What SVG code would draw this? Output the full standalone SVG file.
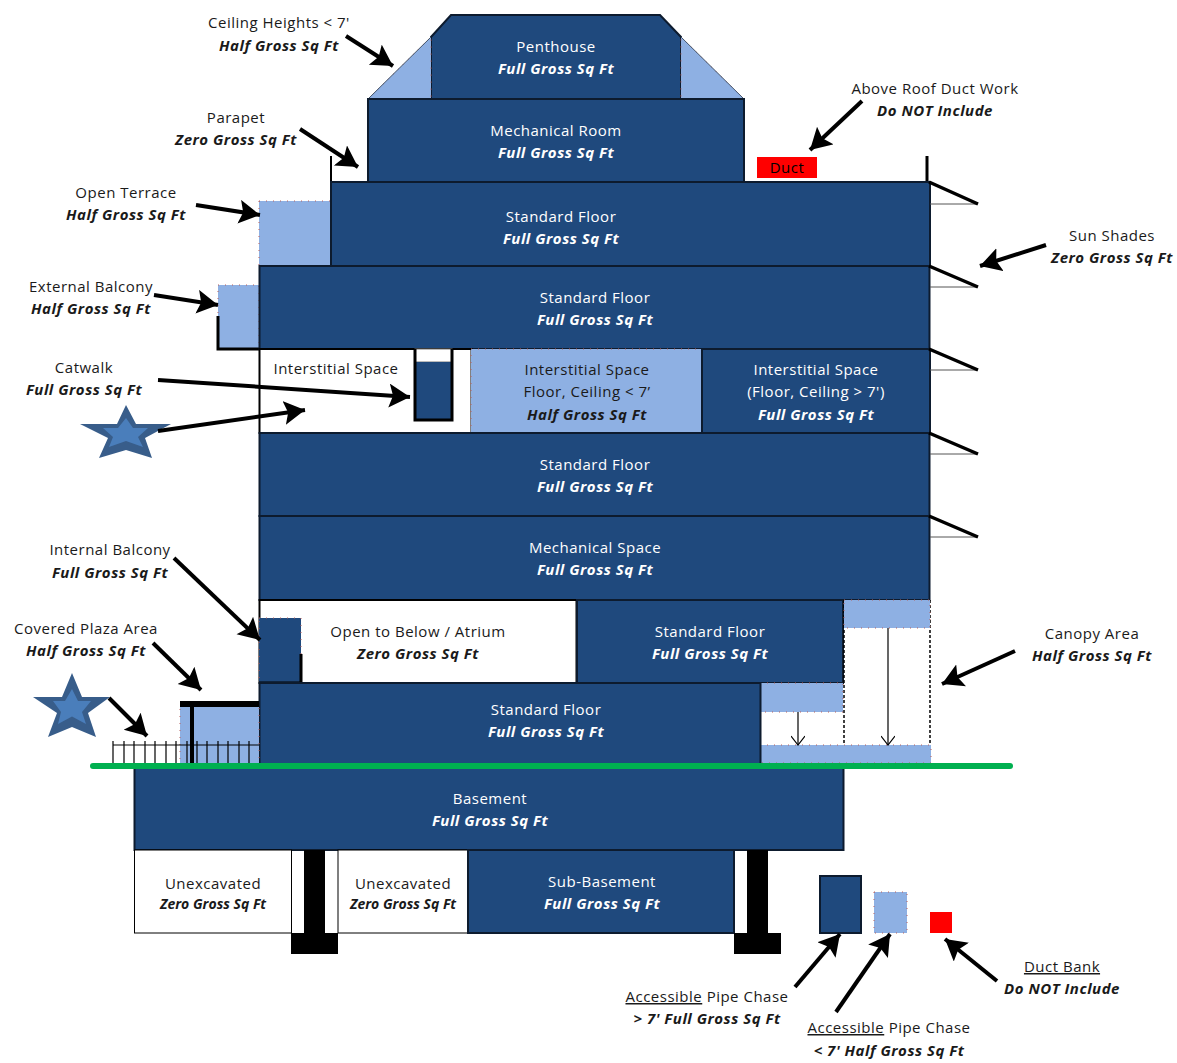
<svg xmlns="http://www.w3.org/2000/svg" width="1177" height="1063" viewBox="0 0 1177 1063">
<style>
text{font-family:"Open Sans","Noto Sans","Liberation Sans",sans-serif;font-size:15px;text-anchor:middle;fill:#1a1a1a;letter-spacing:.5px}
.b{font-weight:700;font-style:italic}
.w{fill:#fff}
.s{font-size:14px;letter-spacing:0}
.d{fill:#1f497d;stroke:#0d1b2e;stroke-width:2}
.l{fill:#8eb0e3;stroke:#b5605f;stroke-width:1;stroke-dasharray:1 6}
.e{fill:#fff;stroke:#000;stroke-width:2}
.ln{stroke:#000;fill:none;stroke-width:3}
.sh{stroke:#000;fill:none;stroke-width:3.500}
.a{stroke:#000;fill:none;stroke-width:4;marker-end:url(#ah)}
.so{fill:#385d8a}
.si{fill:#4a7ebb}
</style>
<defs>
<marker id="ah" markerUnits="userSpaceOnUse" markerWidth="24" markerHeight="26" refX="21" refY="12" orient="auto"><path d="M0 0L21 12L0 24L4 12Z" fill="#000"/></marker>
<marker id="op" markerUnits="userSpaceOnUse" markerWidth="20" markerHeight="14" refX="15" refY="7" orient="auto"><path d="M6 0L15 7L6 14" fill="none" stroke="#000" stroke-width="1.2"/></marker>
</defs>
<g id="penthouse"><path class="d" d="M431 37L451 15H660L681 37V99H431Z"/><text class="w" x="556" y="52">Penthouse</text><text class="w b" x="556" y="74">Full Gross Sq Ft</text></g>
<g id="penthouse-left"><path class="l" d="M368 99L431 37V99Z"/><path d="M368 99L431 37" stroke="#44546a" stroke-width="1"/></g>
<g id="penthouse-right"><path class="l" d="M681 37L744 99H681Z"/><path d="M681 37L744 99" stroke="#44546a" stroke-width="1"/></g>
<g id="mechanical-room"><rect class="d" x="368" y="99" width="376" height="83"/><text class="w" x="556" y="136">Mechanical Room</text><text class="w b" x="556" y="158">Full Gross Sq Ft</text></g>
<g id="duct"><rect x="757" y="157" width="60" height="21" fill="#f00"/><text x="787" y="173" style="fill:#000">Duct</text></g>
<g id="parapet"><path class="ln" d="M331 156V182" style="stroke-width:2"/><path class="ln" d="M927 156V182"/></g>
<g id="terrace"><rect class="l" x="259" y="201" width="72" height="65"/></g>
<g id="floor-1"><rect class="d" x="331" y="182" width="599" height="84"/><text class="w" x="561" y="222">Standard Floor</text><text class="w b" x="561" y="244">Full Gross Sq Ft</text></g>
<g id="balcony"><rect class="l" x="218" y="285" width="41" height="64"/><path class="ln" d="M218 316V349H259"/></g>
<g id="floor-2"><rect class="d" x="259.500" y="266" width="670" height="83"/><text class="w" x="595" y="303">Standard Floor</text><text class="w b" x="595" y="325">Full Gross Sq Ft</text></g>
<g id="interstitial-1"><rect class="e" x="259.500" y="349" width="212" height="84"/><text x="336" y="374">Interstitial Space</text></g>
<g id="catwalk"><rect x="415" y="349" width="37" height="13" fill="#fff" stroke="#777" stroke-width="1"/><rect x="415" y="362" width="37" height="58" fill="#1f497d"/><path class="ln" d="M415 349V420H452V349"/></g>
<g id="interstitial-2"><rect class="l" x="471" y="349" width="231" height="84"/><text x="587" y="375">Interstitial Space</text><text x="587" y="397">Floor, Ceiling &lt; 7’</text><text class="b" x="587" y="420">Half Gross Sq Ft</text></g>
<g id="interstitial-3"><rect class="d" x="702" y="349" width="228" height="84"/><text class="w" x="816" y="375">Interstitial Space</text><text class="w" x="816" y="397">(Floor, Ceiling &gt; 7')</text><text class="w b" x="816" y="420">Full Gross Sq Ft</text></g>
<g id="floor-3"><rect class="d" x="259.500" y="433" width="670" height="83"/><text class="w" x="595" y="470">Standard Floor</text><text class="w b" x="595" y="492">Full Gross Sq Ft</text></g>
<g id="mechanical-space"><rect class="d" x="259.500" y="516" width="670" height="84"/><text class="w" x="595" y="553">Mechanical Space</text><text class="w b" x="595" y="575">Full Gross Sq Ft</text></g>
<g id="sun-shades"><path d="M930 204H978M930 287H978M930 370H978M930 454H978M930 537H978" stroke="#555" stroke-width="1" fill="none"/><path class="sh" d="M929 182L978 204M929 266L978 287M929 349L978 370M929 433L978 454M929 516L978 537"/></g>
<g id="atrium"><rect class="e" x="259.500" y="600" width="317" height="83"/><text x="418" y="637">Open to Below / Atrium</text><text class="b" x="418" y="659">Zero Gross Sq Ft</text></g>
<g id="internal-balcony"><rect x="259" y="618" width="42" height="65" fill="#1f497d" stroke="#b5605f" stroke-dasharray="1 6"/><path class="ln" d="M301 654V683H259"/></g>
<g id="floor-4"><rect class="d" x="577" y="600" width="266" height="83"/><text class="w" x="710" y="637">Standard Floor</text><text class="w b" x="710" y="659">Full Gross Sq Ft</text></g>
<g id="canopy"><path d="M844 600V745M930 600V745" stroke="#000" stroke-dasharray="3 2" stroke-width="1.500" fill="none"/><rect class="l" x="844" y="600" width="86" height="28"/><rect class="l" x="760" y="683" width="83" height="29"/><rect class="l" x="760" y="745" width="171" height="18"/><path d="M798 712V745" stroke="#000" stroke-width="1.200" marker-end="url(#op)"/><path d="M888 628V745" stroke="#000" stroke-width="1.200" marker-end="url(#op)"/></g>
<g id="floor-5"><rect class="d" x="259.500" y="683" width="501" height="81"/><text class="w" x="546" y="715">Standard Floor</text><text class="w b" x="546" y="737">Full Gross Sq Ft</text></g>
<g id="covered-plaza"><rect class="l" x="180" y="703" width="79" height="61"/><path d="M180 704H259" stroke="#000" stroke-width="6"/><path d="M192 704V764" stroke="#000" stroke-width="4"/></g>
<g id="fence"><path d="M113 745H259M113 741V764M124 741V764M134 741V764M145 741V764M155 741V764M166 741V764M176 741V764M187 741V764M197 741V764M207 741V764M218 741V764M228 741V764M239 741V764M249 741V764" stroke="#000" stroke-width="1.200" fill="none"/></g>
<g id="basement"><rect class="d" x="134.500" y="767" width="709" height="83"/><text class="w" x="490" y="804">Basement</text><text class="w b" x="490" y="826">Full Gross Sq Ft</text></g>
<g id="ground"><path d="M93 766H1010" stroke="#00b050" stroke-width="6" stroke-linecap="round"/></g>
<g id="unexcavated-1"><rect x="134.500" y="850" width="157" height="83" fill="#fff" stroke="#000"/><text x="213" y="889">Unexcavated</text><text class="b s" x="213" y="909">Zero Gross Sq Ft</text></g>
<g id="unexcavated-2"><rect x="338" y="850" width="130" height="83" fill="#fff" stroke="#000"/><text x="403" y="889">Unexcavated</text><text class="b s" x="403" y="909">Zero Gross Sq Ft</text></g>
<g id="sub-basement"><rect class="d" x="468" y="850" width="266" height="83"/><text class="w" x="602" y="887">Sub-Basement</text><text class="w b" x="602" y="909">Full Gross Sq Ft</text></g>
<g id="footing-1"><rect x="304" y="850" width="21" height="84"/><rect x="291" y="933" width="47" height="21"/></g>
<g id="footing-2"><rect x="747" y="850" width="21" height="84"/><rect x="734" y="933" width="47" height="21"/></g>
<g id="chase-full"><rect class="d" x="820" y="876" width="41" height="57"/></g>
<g id="chase-half"><rect class="l" x="874" y="892" width="33" height="41"/></g>
<g id="duct-bank"><rect x="930" y="912" width="22" height="21" fill="#f00"/></g>
<g id="star-1"><path class="so" d="M126 405L117 424H80L108 438L99 458L126 450L152 458L145 438L171 424H136Z"/><path class="si" d="M126 418L133 428H148L138 437L143 447L126 441L109 447L113 437L103 428H118Z"/></g>
<g id="star-2"><path class="so" d="M72 673L62 697H33L57 713L48 737L72 727L96 737L88 713L110 697H82Z"/><path class="si" d="M72 689L78 701H91L82 712L86 724L72 716.500L58 724L61 712L53 701H65Z"/></g>
<g id="labels">
<text x="279" y="28">Ceiling Heights &lt; 7'</text><text class="b" x="279" y="51">Half Gross Sq Ft</text>
<text x="236" y="123">Parapet</text><text class="b" x="236" y="145">Zero Gross Sq Ft</text>
<text x="126" y="198">Open Terrace</text><text class="b" x="126" y="220">Half Gross Sq Ft</text>
<text x="91" y="292">External Balcony</text><text class="b" x="91" y="314">Half Gross Sq Ft</text>
<text x="84" y="373">Catwalk</text><text class="b" x="84" y="395">Full Gross Sq Ft</text>
<text x="110" y="555">Internal Balcony</text><text class="b" x="110" y="578">Full Gross Sq Ft</text>
<text x="86" y="634">Covered Plaza Area</text><text class="b" x="86" y="656">Half Gross Sq Ft</text>
<text x="935" y="94">Above Roof Duct Work</text><text class="b" x="935" y="116">Do NOT Include</text>
<text x="1112" y="241">Sun Shades</text><text class="b" x="1112" y="263">Zero Gross Sq Ft</text>
<text x="1092" y="639">Canopy Area</text><text class="b" x="1092" y="661">Half Gross Sq Ft</text>
<text x="1062" y="972" text-decoration="underline">Duct Bank</text><text class="b" x="1062" y="994">Do NOT Include</text>
<text x="707" y="1002"><tspan text-decoration="underline">Accessible</tspan> Pipe Chase</text><text class="b" x="707" y="1024">&gt; 7' Full Gross Sq Ft</text>
<text x="889" y="1033"><tspan text-decoration="underline">Accessible</tspan> Pipe Chase</text><text class="b" x="889" y="1056">&lt; 7' Half Gross Sq Ft</text>
</g>
<g id="connectors">
<path class="a" d="M346 36L393 66"/>
<path class="a" d="M300 129L358 167"/>
<path class="a" d="M196 205L260 215"/>
<path class="a" d="M154 295L218 305"/>
<path class="a" d="M158 380L410 397"/>
<path class="a" d="M158 431L305 410"/>
<path class="a" d="M174 558L260 640"/>
<path class="a" d="M153 643L201 690"/>
<path class="a" d="M109 698L147 736"/>
<path class="a" d="M862 101L810 150"/>
<path class="a" d="M1046 245L980 266"/>
<path class="a" d="M1015 651L942 684"/>
<path class="a" d="M795 987L840 934"/>
<path class="a" d="M836 1012L890 934"/>
<path class="a" d="M997 981L945 939"/>
</g>
</svg>
